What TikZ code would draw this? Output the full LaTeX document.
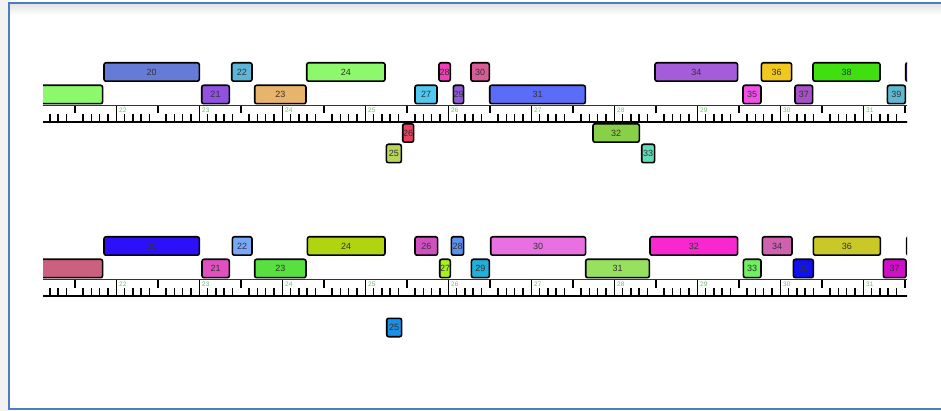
\documentclass[tikz,border=0pt]{standalone}
\usepackage{fontspec}
\setmainfont{Liberation Sans}
\usepackage{tikz}
\usetikzlibrary{calc}
\usepackage{xcolor}

\definecolor{frameblue}{HTML}{4A7EC0}
\definecolor{rulegreen}{HTML}{6CC06C}
% upper track
\definecolor{ta19}{HTML}{8CF86C}
\definecolor{ta20}{HTML}{667BD6}
\definecolor{ta21}{HTML}{9152DF}
\definecolor{ta22}{HTML}{5BB6D8}
\definecolor{ta23}{HTML}{E8B46C}
\definecolor{ta24}{HTML}{8DF86C}
\definecolor{ta25}{HTML}{B8D65A}
\definecolor{ta26}{HTML}{E8405E}
\definecolor{ta27}{HTML}{50C8F0}
\definecolor{ta28}{HTML}{F040B8}
\definecolor{ta29}{HTML}{8F58D8}
\definecolor{ta30}{HTML}{D85C98}
\definecolor{ta31}{HTML}{5A6CF8}
\definecolor{ta32}{HTML}{88D048}
\definecolor{ta33}{HTML}{60DDB8}
\definecolor{ta34}{HTML}{A55CD8}
\definecolor{ta35}{HTML}{F050E8}
\definecolor{ta36}{HTML}{F0C820}
\definecolor{ta37}{HTML}{A850C8}
\definecolor{ta38}{HTML}{40E010}
\definecolor{ta39}{HTML}{60B8D0}
\definecolor{ta40}{HTML}{8040D8}
% lower track
\definecolor{tb19}{HTML}{CC6080}
\definecolor{tb20}{HTML}{2C10F8}
\definecolor{tb21}{HTML}{E050C0}
\definecolor{tb22}{HTML}{78A8F8}
\definecolor{tb23}{HTML}{58E040}
\definecolor{tb24}{HTML}{B0D410}
\definecolor{tb25}{HTML}{1890E8}
\definecolor{tb26}{HTML}{D050C0}
\definecolor{tb27}{HTML}{A8F020}
\definecolor{tb28}{HTML}{5A90F0}
\definecolor{tb29}{HTML}{20B0D8}
\definecolor{tb30}{HTML}{E870E0}
\definecolor{tb31}{HTML}{98E060}
\definecolor{tb32}{HTML}{F828D0}
\definecolor{tb33}{HTML}{70F060}
\definecolor{tb34}{HTML}{D060B0}
\definecolor{tb35}{HTML}{1010F0}
\definecolor{tb36}{HTML}{C8C828}
\definecolor{tb37}{HTML}{D010C8}
\definecolor{tb38}{HTML}{98C060}

\begin{document}
\begin{tikzpicture}[
    x=1pt, y=-1pt,
    seg/.style={rectangle, rounded corners=2pt, draw=black, line width=1.6pt, minimum height=18.4pt, inner sep=0pt, font=\fontsize{9}{10}\selectfont, text=black!80},
    rtick/.style={line width=1.5pt, draw=black},
    rulenum/.style={anchor=west, inner sep=0pt, font=\fontsize{6.5}{7}\selectfont, text=rulegreen}
]
\useasboundingbox (0,0) rectangle (941,411);

% window frame
\fill[black!5] (0,0) rectangle (7.5,411);
\shade[top color=black!10, bottom color=white] (9.5,4.5) rectangle (941,15);
\draw[frameblue, line width=2pt] (960,3.5) -- (8.5,3.5) -- (8.5,409) -- (960,409);

\begin{scope}
\clip (43,0) rectangle (907,411);

% rulers
\foreach \oy in {0,174} {
    \draw[line width=1pt, black!80] (40,106+\oy) -- (910,106+\oy);
    \draw[line width=1.8pt, black] (40,122.3+\oy) -- (910,122.3+\oy);
    \foreach \t in {21,...,31} {
        \draw[rtick] ({116.3+(\t-22)*83},106+\oy) -- ({116.3+(\t-22)*83},122.3+\oy);
        \draw[rtick] ({116.3+(\t-21.5)*83},106+\oy) -- ({116.3+(\t-21.5)*83},113.5+\oy);
        \node[rulenum] (n\t-\oy) at ({119+(\t-22)*83},110.5+\oy) {\t};
        \foreach \s in {1,2,3,4,6,7,8,9}
            \draw[rtick] ({116.3+(\t-22+\s/10)*83},114+\oy) -- ({116.3+(\t-22+\s/10)*83},122.3+\oy);
    }
}

% upper track
\node[seg, fill=ta19, minimum width=81.9pt] (ta19) at (61.65,94.5) {};
\node[seg, fill=ta20, minimum width=95.3pt] (ta20) at (151.65,72) {20};
\node[seg, fill=ta21, minimum width=27.6pt] (ta21) at (215.5,94.5) {21};
\node[seg, fill=ta22, minimum width=20.3pt] (ta22) at (241.85,72) {22};
\node[seg, fill=ta23, minimum width=51.3pt] (ta23) at (280.35,94.5) {23};
\node[seg, fill=ta24, minimum width=78.3pt] (ta24) at (345.85,72) {24};
\node[seg, fill=ta25, minimum width=14.9pt] (ta25) at (393.85,153.5) {25};
\node[seg, fill=ta26, minimum width=10.9pt] (ta26) at (408.15,133) {26};
\node[seg, fill=ta27, minimum width=22pt] (ta27) at (426,94.5) {27};
\node[seg, fill=ta28, minimum width=11.3pt] (ta28) at (444.65,72) {28};
\node[seg, fill=ta29, minimum width=10.2pt] (ta29) at (458.5,94.5) {29};
\node[seg, fill=ta30, minimum width=18.3pt] (ta30) at (480.15,72) {30};
\node[seg, fill=ta31, minimum width=95.6pt] (ta31) at (537.5,94.5) {31};
\node[seg, fill=ta32, minimum width=46.3pt] (ta32) at (616.15,133) {32};
\node[seg, fill=ta33, minimum width=12.9pt] (ta33) at (648.15,153.5) {33};
\node[seg, fill=ta34, minimum width=82.6pt] (ta34) at (696.3,72) {34};
\node[seg, fill=ta35, minimum width=18pt] (ta35) at (752,94.5) {35};
\node[seg, fill=ta36, minimum width=30.2pt] (ta36) at (776.5,72) {36};
\node[seg, fill=ta37, minimum width=17.6pt] (ta37) at (803.8,94.5) {37};
\node[seg, fill=ta38, minimum width=67pt] (ta38) at (846.5,72) {38};
\node[seg, fill=ta39, minimum width=17.9pt] (ta39) at (896.35,94.5) {39};
\node[seg, fill=ta40, minimum width=53.6pt] (ta40) at (932.5,72) {};

% lower track
\node[seg, fill=tb19, minimum width=81.9pt] (tb19) at (61.65,268.5) {};
\node[seg, fill=tb20, minimum width=95.3pt] (tb20) at (151.65,246) {20};
\node[seg, fill=tb21, minimum width=27.3pt] (tb21) at (215.65,268.5) {21};
\node[seg, fill=tb22, minimum width=19.6pt] (tb22) at (242.2,246) {22};
\node[seg, fill=tb23, minimum width=51.3pt] (tb23) at (280.35,268.5) {23};
\node[seg, fill=tb24, minimum width=77.6pt] (tb24) at (346.2,246) {24};
\node[seg, fill=tb25, minimum width=14.9pt] (tb25) at (394.15,327.5) {25};
\node[seg, fill=tb26, minimum width=22.6pt] (tb26) at (426.3,246) {26};
\node[seg, fill=tb27, minimum width=10.6pt] (tb27) at (445,268.5) {27};
\node[seg, fill=tb28, minimum width=12.2pt] (tb28) at (457.5,246) {28};
\node[seg, fill=tb29, minimum width=17.9pt] (tb29) at (480.35,268.5) {29};
\node[seg, fill=tb30, minimum width=94.9pt] (tb30) at (538.15,246) {30};
\node[seg, fill=tb31, minimum width=63.6pt] (tb31) at (617.5,268.5) {31};
\node[seg, fill=tb32, minimum width=87.6pt] (tb32) at (693.8,246) {32};
\node[seg, fill=tb33, minimum width=17.6pt] (tb33) at (752.2,268.5) {33};
\node[seg, fill=tb34, minimum width=29.6pt] (tb34) at (777.2,246) {34};
\node[seg, fill=tb35, minimum width=19.9pt] (tb35) at (803.35,268.5) {35};
\node[seg, fill=tb36, minimum width=66.9pt] (tb36) at (846.85,246) {36};
\node[seg, fill=tb37, minimum width=22.6pt] (tb37) at (894.7,268.5) {37};
\node[seg, fill=tb38, minimum width=52.6pt] (tb38) at (933,246) {};
\end{scope}

\end{tikzpicture}
\end{document}
